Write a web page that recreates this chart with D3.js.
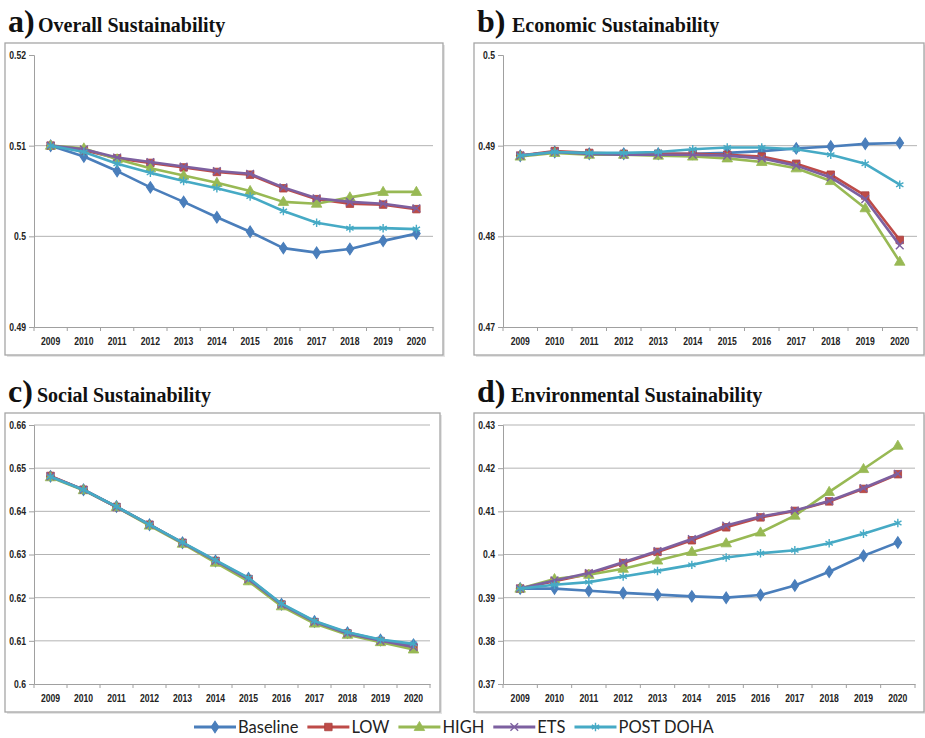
<!DOCTYPE html>
<html><head><meta charset="utf-8">
<script src="https://cdn.jsdelivr.net/npm/d3@7"></script>
<style>body{margin:0;background:#fff;} svg{display:block}</style>
</head><body>
<svg id="chart" width="925" height="738"></svg>
<script>
// ---------- DATA ----------
const years = ["2009","2010","2011","2012","2013","2014","2015","2016","2017","2018","2019","2020"];
const seriesNames = ["Baseline","LOW","HIGH","ETS","POST DOHA"];

// a) Overall Sustainability
const overallBaseline = [0.5100,0.5088,0.5072,0.5054,0.5038,0.5021,0.5005,0.4987,0.4982,0.4986,0.4995,0.5003];
const overallLow      = [0.5100,0.5095,0.5086,0.5081,0.5076,0.5071,0.5068,0.5053,0.5041,0.5036,0.5035,0.5030];
const overallHigh     = [0.5100,0.5097,0.5085,0.5075,0.5067,0.5059,0.5050,0.5038,0.5036,0.5043,0.5049,0.5049];
const overallEts      = [0.5100,0.5096,0.5087,0.5082,0.5077,0.5072,0.5069,0.5054,0.5042,0.5038,0.5036,0.5031];
const overallPostDoha = [0.5100,0.5093,0.5080,0.5070,0.5061,0.5053,0.5044,0.5028,0.5015,0.5009,0.5009,0.5008];
const overallTicks = ["0.49","0.5","0.51","0.52"];

// b) Economic Sustainability
const economicBaseline = [0.4889,0.4893,0.4891,0.4891,0.4891,0.4891,0.4892,0.4894,0.4897,0.4899,0.4902,0.4903];
const economicLow      = [0.4889,0.4894,0.4892,0.4891,0.4891,0.4891,0.4890,0.4888,0.4880,0.4868,0.4845,0.4796];
const economicHigh     = [0.4888,0.4892,0.4890,0.4890,0.4889,0.4888,0.4886,0.4882,0.4875,0.4861,0.4831,0.4772];
const economicEts      = [0.4889,0.4893,0.4891,0.4890,0.4890,0.4890,0.4889,0.4886,0.4878,0.4865,0.4841,0.4790];
const economicPostDoha = [0.4889,0.4893,0.4892,0.4892,0.4893,0.4896,0.4898,0.4898,0.4896,0.4890,0.4880,0.4857];
const economicTicks = ["0.47","0.48","0.49","0.5"];

// c) Social Sustainability
const socialBaseline = [0.6481,0.6450,0.6411,0.6369,0.6327,0.6285,0.6245,0.6185,0.6145,0.6119,0.6102,0.6091];
const socialLow      = [0.6482,0.6450,0.6410,0.6369,0.6327,0.6285,0.6243,0.6184,0.6143,0.6117,0.6099,0.6083];
const socialHigh     = [0.6479,0.6449,0.6410,0.6367,0.6325,0.6281,0.6238,0.6180,0.6140,0.6114,0.6097,0.6080];
const socialEts      = [0.6481,0.6450,0.6410,0.6369,0.6327,0.6285,0.6243,0.6184,0.6144,0.6117,0.6100,0.6086];
const socialPostDoha = [0.6480,0.6450,0.6411,0.6369,0.6328,0.6287,0.6246,0.6186,0.6146,0.6120,0.6103,0.6093];
const socialTicks = ["0.6","0.61","0.62","0.63","0.64","0.65","0.66"];

// d) Environmental Sustainability
const envBaseline = [0.3921,0.3921,0.3916,0.3911,0.3907,0.3903,0.3900,0.3906,0.3928,0.3960,0.3997,0.4028];
const envLow      = [0.3921,0.3938,0.3955,0.3980,0.4006,0.4033,0.4063,0.4086,0.4101,0.4123,0.4152,0.4186];
const envHigh     = [0.3921,0.3943,0.3953,0.3967,0.3986,0.4006,0.4026,0.4051,0.4090,0.4145,0.4198,0.4252];
const envEts      = [0.3921,0.3940,0.3957,0.3982,0.4008,0.4036,0.4067,0.4088,0.4102,0.4124,0.4154,0.4187];
const envPostDoha = [0.3921,0.3930,0.3936,0.3949,0.3962,0.3976,0.3993,0.4003,0.4010,0.4026,0.4048,0.4073];
const envTicks = ["0.37","0.38","0.39","0.4","0.41","0.42","0.43"];

// ---------- STYLE / LAYOUT ----------
const colors = {"Baseline":"#4A7EBB","LOW":"#BE4B48","HIGH":"#98B954","ETS":"#7D60A0","POST DOHA":"#46AAC5"};
const markerType = {"Baseline":"diamond","LOW":"square","HIGH":"triangle","ETS":"x","POST DOHA":"asterisk"};

const panels = [
  {letter:"a)", title:"Overall Sustainability", data:[overallBaseline,overallLow,overallHigh,overallEts,overallPostDoha],
   ticks:overallTicks, topGrid:false, frame:[5,43,443,355], plot:[34,55,433,327], titleX:[8,38], titleY:32, labelY:345},
  {letter:"b)", title:"Economic Sustainability", data:[economicBaseline,economicLow,economicHigh,economicEts,economicPostDoha],
   ticks:economicTicks, topGrid:false, frame:[474,43,924,355], plot:[503,55,917,327], titleX:[477,512], titleY:32, labelY:345},
  {letter:"c)", title:"Social Sustainability", data:[socialBaseline,socialLow,socialHigh,socialEts,socialPostDoha],
   ticks:socialTicks, topGrid:true, frame:[5,413,440,712], plot:[34,425,430,684], titleX:[8,37], titleY:402, labelY:702},
  {letter:"d)", title:"Environmental Sustainability", data:[envBaseline,envLow,envHigh,envEts,envPostDoha],
   ticks:envTicks, topGrid:true, frame:[474,413,924,712], plot:[503,425,915,684], titleX:[477,511], titleY:402, labelY:702}
];

const svg = d3.select("#chart");
const tickFont = '"Liberation Sans",Arial,sans-serif';

function drawMarker(g, type, color, cx, cy) {
  if (type === "diamond") {
    g.append("path").attr("d", d3.symbol(d3.symbolDiamond, 38)()).attr("transform",`translate(${cx},${cy}) scale(1.15,1)`)
      .attr("fill", color).attr("stroke", color).attr("stroke-width", 1);
  } else if (type === "square") {
    g.append("path").attr("d", d3.symbol(d3.symbolSquare, 56)()).attr("transform",`translate(${cx},${cy})`)
      .attr("fill", color).attr("stroke", "#a9403d").attr("stroke-width", 0.8);
  } else if (type === "triangle") {
    g.append("path").attr("d", d3.symbol(d3.symbolTriangle, 48)()).attr("transform",`translate(${cx},${cy+0.5})`)
      .attr("fill", color).attr("stroke", color).attr("stroke-width", 0.8);
  } else if (type === "x") {
    g.append("path").attr("d", d3.symbol(d3.symbolX, 40)()).attr("transform",`translate(${cx},${cy})`)
      .attr("fill", "none").attr("stroke", color).attr("stroke-width", 1.4);
  } else {
    g.append("path").attr("d", d3.symbol(d3.symbolAsterisk, 50)()).attr("transform",`translate(${cx},${cy})`)
      .attr("fill", "none").attr("stroke", color).attr("stroke-width", 1.4);
  }
}

panels.forEach(p => {
  const [fx0, fy0, fx1, fy1] = p.frame;
  const [px0, py0, px1, py1] = p.plot;
  const g = svg.append("g");

  // frame with light shadow
  g.append("rect").attr("x", fx0+2).attr("y", fy0+2).attr("width", fx1-fx0).attr("height", fy1-fy0)
    .attr("fill", "#e4e4e4");
  g.append("rect").attr("x", fx0).attr("y", fy0).attr("width", fx1-fx0).attr("height", fy1-fy0)
    .attr("fill", "#fff").attr("stroke", "#a6a6a6").attr("stroke-width", 1.3);

  // title
  const t = g.append("text").attr("y", p.titleY).attr("font-family", '"Liberation Serif","Times New Roman",serif')
    .attr("font-weight", "bold").attr("fill", "#111");
  t.append("tspan").attr("x", p.titleX[0]).attr("font-size", 32).text(p.letter);
  t.append("tspan").attr("x", p.titleX[1]).attr("font-size", 20).text(p.title);

  const tickVals = p.ticks.map(Number);
  const y = d3.scaleLinear().domain([d3.min(tickVals), d3.max(tickVals)]).range([py1, py0]);
  const x = d3.scaleBand().domain(years).range([px0, px1]).paddingInner(0).paddingOuter(0);

  // gridlines
  const gridVals = tickVals.filter(v => v !== d3.min(tickVals) && (p.topGrid || v !== d3.max(tickVals)));
  g.append("g").selectAll("line").data(gridVals).join("line")
    .attr("x1", px0).attr("x2", px1).attr("y1", d => y(d)).attr("y2", d => y(d))
    .attr("stroke", "#b3b3b3").attr("stroke-width", 1);

  // y axis
  const ya = g.append("g").attr("transform", `translate(${px0},0)`)
    .call(d3.axisLeft(y).tickValues(tickVals).tickSize(5).tickPadding(0).tickFormat((d,i) => p.ticks[i]));
  ya.select(".domain").attr("stroke", "#a0a0a0").attr("stroke-width", 1);
  ya.selectAll(".tick line").attr("stroke", "#a0a0a0");
  ya.selectAll(".tick text").attr("font-family", tickFont).attr("font-size", 10.5).attr("font-weight", "bold")
    .attr("fill", "#222").attr("x", 0).attr("transform", "translate(-8,0) scale(0.82,1)");

  // x axis
  const xa = g.append("g").attr("transform", `translate(0,${py1})`)
    .call(d3.axisBottom(x).tickSize(0).tickPadding(0));
  xa.select(".domain").attr("stroke", "#a0a0a0").attr("stroke-width", 1);
  xa.selectAll(".tick text").attr("font-family", tickFont).attr("font-size", 10.5).attr("font-weight", "bold")
    .attr("fill", "#222").attr("dy", null).attr("y", p.labelY - py1).attr("transform", "scale(0.82,1)");
  const bounds = years.map(d => x(d)).concat([px1]);
  g.append("g").selectAll("line").data(bounds).join("line")
    .attr("x1", d => d).attr("x2", d => d).attr("y1", py1).attr("y2", py1 + 4)
    .attr("stroke", "#a0a0a0");

  // series
  const line = d3.line().x((d,i) => x(years[i]) + x.bandwidth()/2).y(d => y(d));
  seriesNames.forEach((name, si) => {
    const vals = p.data[si];
    const sg = g.append("g");
    sg.append("path").datum(vals).attr("d", line).attr("fill", "none")
      .attr("stroke", colors[name]).attr("stroke-width", 2.6).attr("stroke-linejoin", "round");
    vals.forEach((v, i) => drawMarker(sg, markerType[name], colors[name], x(years[i]) + x.bandwidth()/2, y(v)));
  });
});

// legend (laid out sequentially from measured text widths)
const legend = svg.append("g");
let lx = 194;
const ly = 727;
seriesNames.forEach((name) => {
  legend.append("line").attr("x1", lx).attr("x2", lx + 42).attr("y1", ly).attr("y2", ly)
    .attr("stroke", colors[name]).attr("stroke-width", 3);
  drawMarker(legend, markerType[name], colors[name], lx + 21, ly);
  const txt = legend.append("text").attr("x", lx + 44).attr("y", ly + 6).attr("font-family", 'Lato,"Open Sans",sans-serif')
    .attr("font-size", 16.5).attr("fill", "#222").text(name);
  lx = lx + 44 + txt.node().getComputedTextLength() + 9;
});
</script>
</body></html>
